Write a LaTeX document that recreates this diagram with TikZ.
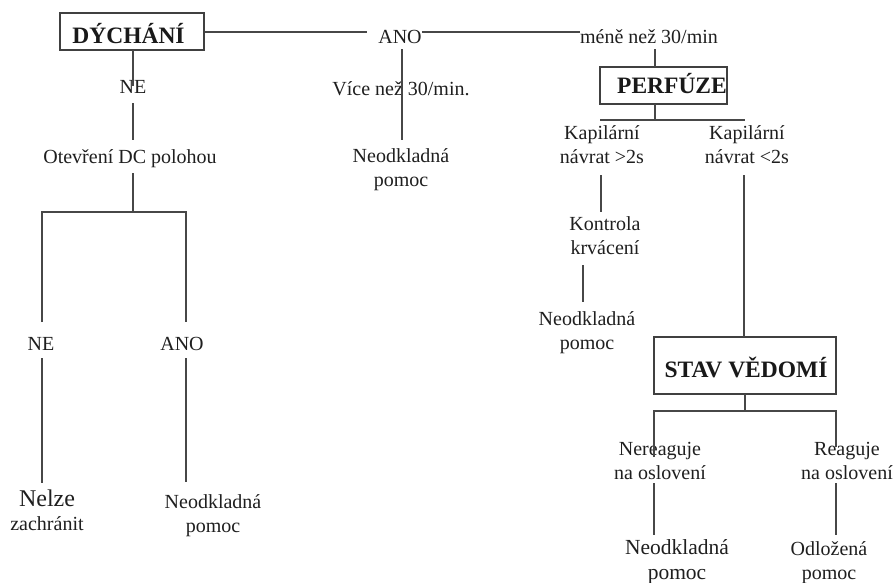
\documentclass[tikz,border=0pt]{standalone}
\usepackage{fontspec}
\setmainfont{Liberation Serif}
\begin{document}
\begin{tikzpicture}[x=1pt,y=-1pt,
  txt/.style={inner sep=0pt, anchor=base, align=center, text=black!88, font=\fontsize{20}{23.5}\selectfont},
  big/.style={txt, font=\fontsize{21.5}{24.5}\selectfont},
  head/.style={inner sep=0pt, anchor=base, text=black!90, font=\bfseries\fontsize{23.5}{28}\selectfont},
  boxed/.style={draw=black!75, line width=2pt, inner sep=0pt},
  ln/.style={draw=black!72, line width=2pt}]
\useasboundingbox[fill=white] (0,0) rectangle (896,582);

% boxes
\node[boxed, minimum width=144pt, minimum height=37pt] (dych) at (132,31.5) {};
\node[head] (dycht) at (128.5,43) {DÝCHÁNÍ};
\node[boxed, minimum width=127pt, minimum height=37pt] (perf) at (663.5,85.5) {};
\node[head] (perft) at (672,93) {PERFÚZE};
\node[boxed, minimum width=182pt, minimum height=57pt] (stav) at (745,365.5) {};
\node[head] (stavt) at (746,377) {STAV VĚDOMÍ};

% texts (base anchor = baseline of the last line)
\node[txt] (ano1) at (400,43) {ANO};
\node[txt] (mene) at (649,43) {méně než 30/min};
\node[txt] (ne1) at (133,93) {NE};
\node[txt] (vice) at (401,95) {Více než 30/min.};
\node[txt] (otev) at (130,163) {Otevření DC polohou};
\node[txt] (neod1) at (401,186) {Neodkladná\\pomoc};
\node[txt] (kap1) at (602,163) {Kapilární\\návrat >2s};
\node[txt] (kap2) at (747,163) {Kapilární\\návrat <2s};
\node[txt] (kontr) at (605,254) {Kontrola\\krvácení};
\node[txt] (neod2) at (587,349) {Neodkladná\\pomoc};
\node[txt] (ne2) at (41,350) {NE};
\node[txt] (ano2) at (182,350) {ANO};
\node[txt] (ner) at (660,479) {Nereaguje\\na oslovení};
\node[txt] (rea) at (847,479) {Reaguje\\na oslovení};
\node[txt, font=\fontsize{24}{24}\selectfont] (nelze) at (47,530) {Nelze\\{\fontsize{20}{20}\selectfont zachránit}};
\node[txt] (neod4) at (213,532) {Neodkladná\\pomoc};
\node[big] (neod3) at (677,579) {Neodkladná\\pomoc};
\node[txt] (odl) at (829,579) {Odložená\\pomoc};

% junction / end coordinates
\coordinate (j1) at (367,31.5);
\coordinate (pbar) at (655,120);
\coordinate (sbar) at (745,411);
\coordinate (lbar) at (133,212);

% connectors
\draw[ln] (dych.east) -- (j1);
\draw[ln] (ano1.east |- dych.east) -- (mene.west |- dych.east);
\draw[ln] (402,49) -- (402,140);
\draw[ln] (655,49) -- (655,67);
\draw[ln] (655,104) -- (pbar);
\draw[ln] (600,120) -- (745,120);
\draw[ln] (601,175) -- (601,212);
\draw[ln] (583,265) -- (583,302);
\draw[ln] (744,175) -- (744,337);
\draw[ln] (745,394) -- (sbar);
\draw[ln] (654,457) -- (654,411) -- (836,411) -- (836,447);
\draw[ln] (654,483) -- (654,535);
\draw[ln] (836,483) -- (836,535);
\draw[ln] (133,50) -- (133,86);
\draw[ln] (133,103) -- (133,140);
\draw[ln] (133,173) -- (lbar);
\draw[ln] (42,322) -- (42,212) -- (186,212) -- (186,322);
\draw[ln] (42,358) -- (42,483);
\draw[ln] (186,358) -- (186,482);
\end{tikzpicture}
\end{document}
